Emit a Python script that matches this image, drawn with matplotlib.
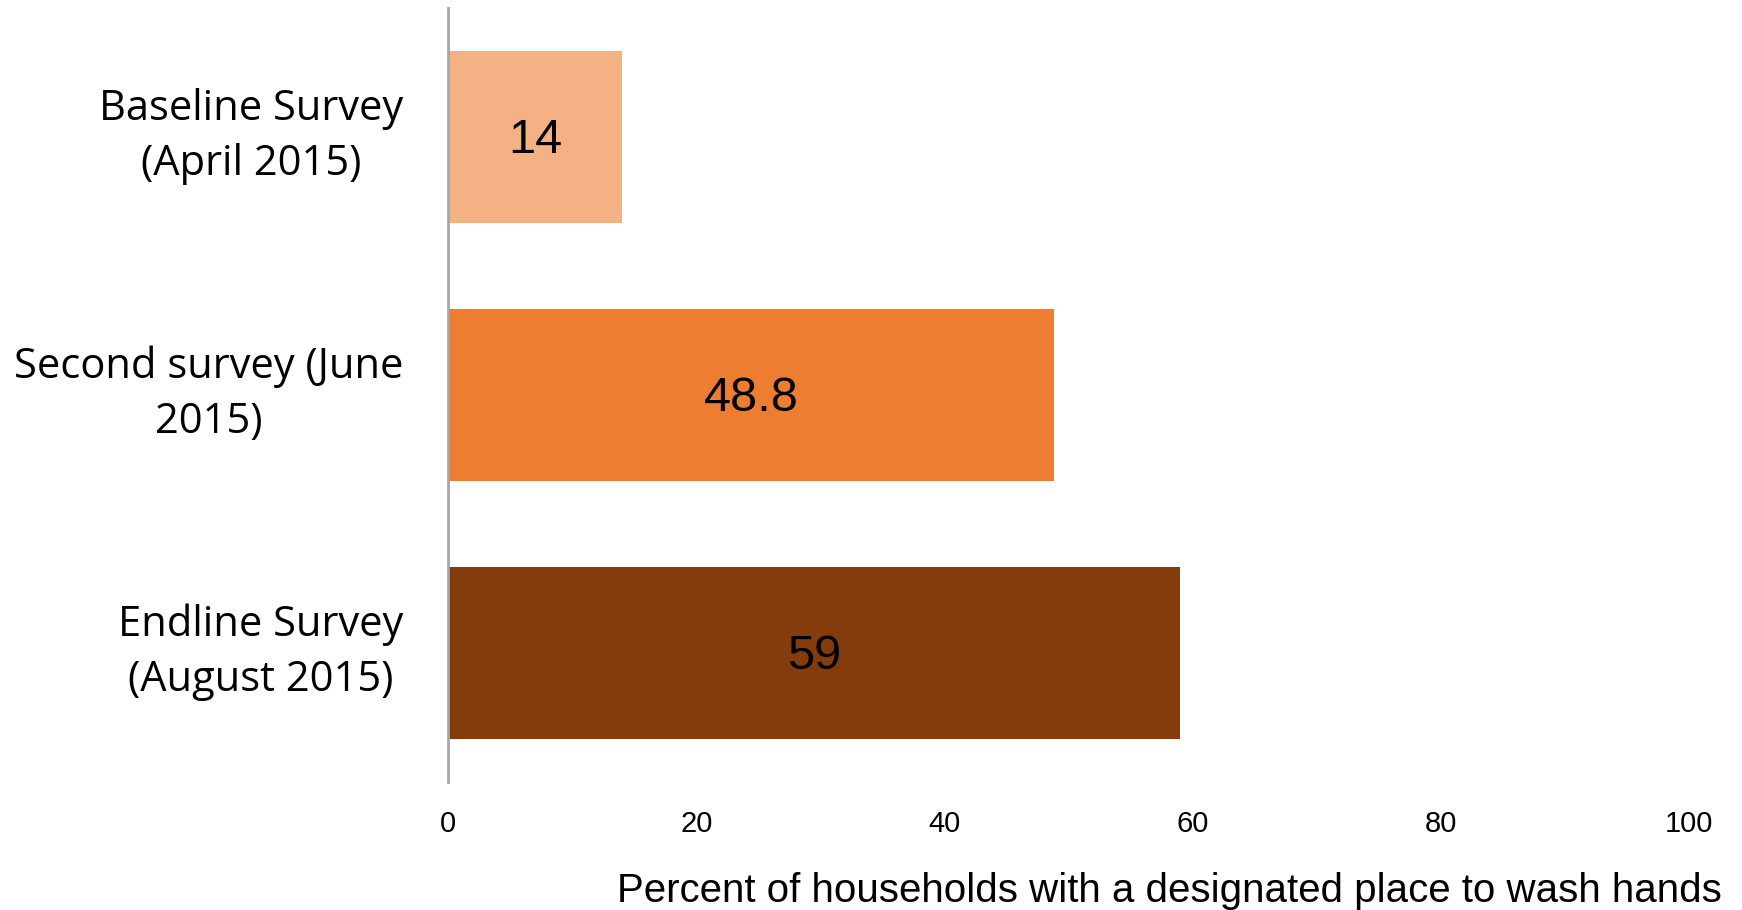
import matplotlib
matplotlib.use('Agg')
import matplotlib.pyplot as plt
import matplotlib.transforms as mtransforms

categories = ['Baseline Survey\n(April 2015)', 'Second survey (June\n2015)', 'Endline Survey\n(August 2015)']
values = [14, 48.8, 59]
value_labels = ['14', '48.8', '59']
colors = ['#F4B183', '#ED7D31', '#843C0C']
xticks = [0, 20, 40, 60, 80, 100]

fig = plt.figure(figsize=(17.42, 9.10), dpi=100)
ax = fig.add_axes([0.2572, 0.1407, 0.7124, 0.8503])

y = list(range(len(categories)))
ax.barh(y, values, height=0.665, color=colors)
ax.set_ylim(2.5, -0.5)
ax.set_xlim(0, 100)

for yi, v, lab in zip(y, values, value_labels):
    ax.text(v / 2, yi + 0.012, lab, ha='center', va='center', fontsize=35,
            family='Liberation Sans', color='black')

ax.set_yticks(y)
ax.set_yticklabels(categories, fontsize=30, family='Open Sans', ha='right',
                   multialignment='center', linespacing=1.4)
ax.tick_params(axis='y', length=0, pad=32)
# nudge the category labels up a little
shift = mtransforms.ScaledTranslation(0, 0.12, fig.dpi_scale_trans)
for t in ax.get_yticklabels():
    t.set_transform(t.get_transform() + shift)

ax.set_xticks(xticks)
ax.set_xticklabels([str(t) for t in xticks], fontsize=21, family='Liberation Sans')
ax.tick_params(axis='x', length=0, pad=20)

ax.set_xlabel('Percent of households with a designated place to wash hands',
              fontsize=29, family='Liberation Sans')
ax.xaxis.set_label_coords(1.0266, -0.155)
ax.xaxis.label.set_ha('right')
ax.xaxis.label.set_va('baseline')

for s in ['top', 'right', 'bottom']:
    ax.spines[s].set_visible(False)
ax.spines['left'].set_color('#A6A6A6')
ax.spines['left'].set_linewidth(2)

fig.savefig('out.png', dpi=100)
